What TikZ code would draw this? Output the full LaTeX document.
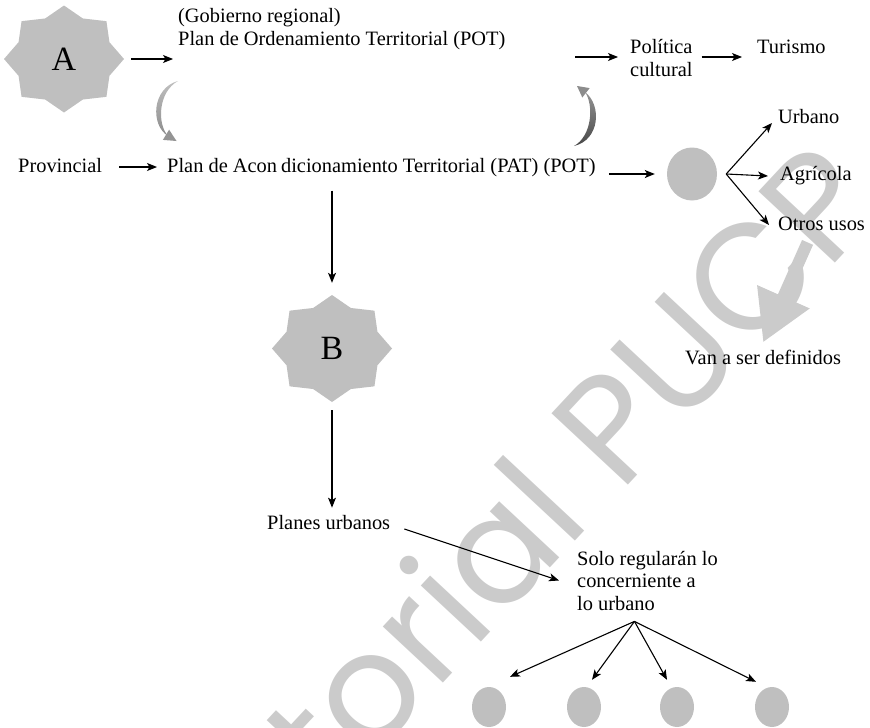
\documentclass[tikz,border=0pt]{standalone}
\usepackage{fontspec}
\setmainfont{Liberation Serif}
\newfontfamily\wmfont{Poppins}
\usetikzlibrary{arrows.meta,shapes.geometric,calc}
\definecolor{starfill}{HTML}{BFBFBF}
\definecolor{wmgray}{HTML}{CBCBCB}
\tikzset{
  lbl/.style={inner sep=0pt, anchor=base west, font=\fontsize{20.4}{22.5}\selectfont, align=left},
  arr/.style={draw=black, line width=1.1pt, -{Stealth[length=10pt,width=8pt,inset=2.5pt]}},
  blob/.style={ellipse, fill=starfill, inner sep=0pt},
  starlabel/.style={ellipse, inner sep=0pt, minimum width=120pt, minimum height=107pt,
    font=\fontsize{34}{34}\selectfont},
}
% eight-pointed star, slightly flattened, centred on a named coordinate
\newcommand\eightstar[1]{%
  \fill[starfill, shift={(#1)}] (0pt,53.5pt)
    \foreach \i in {1,...,15}{ -- ({60*(1-0.18*mod(\i,2))*cos(90+22.5*\i)*1pt},
                                    {53.5*(1-0.18*mod(\i,2))*sin(90+22.5*\i)*1pt}) }
    -- cycle;}
\begin{document}
\begin{tikzpicture}[x=1pt,y=-1pt]
\useasboundingbox (0,0) rectangle (870,728);

% background mark
\node[text=wmgray, font=\wmfont\fontsize{150}{150}\selectfont, rotate=47, inner sep=0pt]
  (wm) at (495,545) {Editorial PUCP};

% stars
\coordinate (cA) at (64,59);
\eightstar{cA}
\node[starlabel] (A) at (cA) {A};
\coordinate (cB) at (332,348.5);
\eightstar{cB}
\node[starlabel] (B) at (cB) {B};

% labels (multi-line labels sit on the baseline of their last line)
\node[lbl] (pot) at (178,45) {(Gobierno regional)\\Plan de Ordenamiento Territorial (POT)};
\node[lbl] (pol) at (630,76) {Política\\cultural};
\node[lbl] (tur) at (757,53) {Turismo};
\node[lbl] (prov) at (18,172) {Provincial};
\node[lbl] (pat) at (167,172) {Plan de Acon\kern4pt dicionamiento Territorial (PAT) (POT)};
\node[lbl] (urb) at (778,123) {Urbano};
\node[lbl] (agr) at (780,180) {Agrícola};
\node[lbl] (otr) at (778,230) {Otros usos};
\node[lbl] (van) at (685,364) {Van a ser definidos};
\node[lbl] (plu) at (267,529) {Planes urbanos};
\node[lbl] (solo) at (577,610) {Solo regularán lo\\concerniente a\\lo urbano};

% grey discs
\node[blob, minimum width=50pt, minimum height=53pt] (blob) at (692,174) {};
\foreach \n/\x in {1/489,2/584,3/677,4/772}
  \node[blob, minimum width=34pt, minimum height=40pt] (c\n) at (\x,707) {};

% top row
\coordinate (polin) at (575,57);
\draw[arr, shorten <=7pt, shorten >=5pt] (A.east) -- (A.east -| pot.west);
\draw[arr, shorten >=12pt] (polin) -- (polin -| pol.west);
\draw[arr, shorten <=9pt, shorten >=15pt] (pol.east |- polin) -- (polin -| tur.west);

% curved links between the two plans
\shade[top color=black!25, bottom color=black!45]
  (178,81) .. controls (152,88) and (150,125) .. (168,136)
  .. controls (157,124) and (158,92) .. (178,81) -- cycle;
\fill[black!42] (176.5,141) -- (162.9,139.9) -- (169.1,129.7) -- cycle;
\shade[top color=black!42, bottom color=black!72]
  (574,146) .. controls (600,140) and (602,105) .. (585,92)
  .. controls (594,105) and (592,136) .. (574,146) -- cycle;
\fill[black!45] (577,86) -- (589.7,88.1) -- (582.3,97.5) -- cycle;

% provincial row
\draw[arr, shorten <=17pt, shorten >=10pt] ([yshift=5pt]prov.base east) -- ([yshift=5pt]pat.base west);
\draw[arr, shorten <=13pt, shorten >=12pt] (pat.east |- blob.west) -- (blob.west);
\coordinate (fanA) at ([xshift=9pt]blob.east);
\draw[arr] (fanA) -- ([xshift=-6pt]urb.base west);
\draw[arr] (fanA) -- ([xshift=-12pt,yshift=4pt]agr.base west);
\draw[arr] (fanA) -- ([xshift=-9pt,yshift=5pt]otr.base west);
\draw[wmgray, line width=12pt, -{Triangle[length=50pt,width=54pt]}]
  ([xshift=-14pt,yshift=-12pt]otr.south) -- ([yshift=7pt]van.north);

% down the middle
\draw[arr, shorten <=14pt, shorten >=12pt] (B |- pat.south) -- (B.north);
\draw[arr, shorten <=8pt, shorten >=7pt] (B.south) -- (B.south |- plu.north);
\draw[arr] ([xshift=14pt]plu.base east) -- ([xshift=-18pt]solo.west);

% fan to the four discs
\coordinate (fanB) at ([xshift=-13pt,yshift=-11pt]solo.south);
\draw[arr] (fanB) -- ([xshift=21pt,yshift=10pt]c1.north);
\draw[arr] (fanB) -- ([xshift=8pt,yshift=7pt]c2.north);
\draw[arr] (fanB) -- ([xshift=-10pt,yshift=7pt]c3.north);
\draw[arr] (fanB) -- ([xshift=-16pt,yshift=5pt]c4.north);
\end{tikzpicture}
\end{document}
